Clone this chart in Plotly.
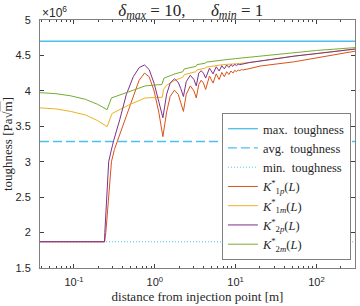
import plotly.graph_objects as go

# ---------------- data ----------------
x_range = [0.038, 300]
max_toughness = 4.70e6
avg_toughness = 3.285e6
min_toughness = 1.87e6

# K*_1p(L)  (orange)
k1p_x = [0.038, 0.239, 0.248, 0.267, 0.291, 0.316, 0.342, 0.432, 0.53, 0.64, 0.747, 0.85, 0.98, 1.12, 1.26,
         1.4, 1.55, 1.75, 1.95, 2.1, 2.26,
         2.45, 2.75, 3.05, 3.26,
         3.5, 3.75, 4.0, 4.26,
         4.75, 5.26, 5.75, 6.26, 6.75, 7.26, 7.75, 8.26, 8.75, 9.26, 9.75, 10.26, 10.75, 11.26, 11.75, 12.26,
         15, 20, 53, 108, 300]
k1p_y = [1.87, 1.87, 2.0, 2.5, 3.0, 3.17, 3.28, 3.59, 3.9, 4.15, 4.25, 4.20, 4.0, 3.70, 3.354,
         3.70, 3.92, 4.01, 3.95, 3.84, 3.71,
         3.95, 4.07, 4.0, 3.90,
         4.09, 4.15, 4.11, 4.02,
         4.21, 4.11, 4.24, 4.16, 4.26, 4.20, 4.27, 4.23, 4.28, 4.25, 4.29, 4.27, 4.295, 4.285, 4.30, 4.295,
         4.315, 4.35, 4.41, 4.47, 4.56]

# K*_1m(L)  (yellow)
k1m_x = [0.038, 0.06, 0.091, 0.139, 0.196, 0.24, 0.257, 0.296, 0.475, 0.762, 1.222,
         1.24, 1.28, 1.4, 1.78, 2.22, 2.32, 3.22, 3.32, 4.22, 4.32, 5.3, 7, 11.2, 20, 53, 108, 300]
k1m_y = [3.76, 3.745, 3.71, 3.66, 3.58, 3.52, 3.495, 3.68, 3.80, 3.90, 3.92,
         3.91, 4.02, 4.08, 4.15, 4.19, 4.23, 4.27, 4.295, 4.32, 4.335, 4.35, 4.37, 4.385, 4.42, 4.49, 4.53, 4.59]

# K*_2p(L)  (purple)
k2p_x = [0.038, 0.239, 0.241, 0.252, 0.269, 0.288, 0.31, 0.368, 0.445, 0.542, 0.643, 0.747, 0.853, 0.984, 1.117, 1.26,
         1.4, 1.55, 1.75, 1.95, 2.1, 2.26,
         2.45, 2.75, 3.05, 3.26,
         3.5, 3.75, 4.0, 4.26,
         4.75, 5.26, 5.75, 6.26, 6.75, 7.26, 7.75, 8.26, 8.75, 9.26, 9.75, 10.26, 10.75, 11.26,
         15, 19.8, 53, 108, 300]
k2p_y = [1.87, 1.87, 2.0, 2.5, 3.0, 3.15, 3.30, 3.59, 3.95, 4.2, 4.33, 4.365, 4.30, 4.10, 3.85, 3.62,
         3.95, 4.11, 4.17, 4.12, 4.03, 3.92,
         4.13, 4.22, 4.16, 4.07,
         4.25, 4.285, 4.25, 4.18,
         4.32, 4.24, 4.34, 4.28, 4.355, 4.31, 4.365, 4.33, 4.37, 4.345, 4.375, 4.355, 4.378, 4.37,
         4.40, 4.42, 4.49, 4.53, 4.59]

# K*_2m(L)  (green)
k2m_x = [0.038, 0.06, 0.091, 0.139, 0.196, 0.24, 0.257, 0.291, 0.475, 0.762, 1.222,
         1.3, 1.78, 2.22, 2.32, 3.22, 3.32, 4.22, 4.32, 5.3, 7, 10, 20, 53, 100, 300]
k2m_y = [3.975, 3.96, 3.93, 3.88, 3.81, 3.755, 3.735, 3.90, 3.99, 4.07, 4.09,
         4.18, 4.24, 4.27, 4.31, 4.345, 4.37, 4.39, 4.405, 4.42, 4.435, 4.455, 4.49, 4.54, 4.57, 4.61]

y_tick_vals = [1.5, 2, 2.5, 3, 3.5, 4, 4.5, 5]
y_tick_text = ["1.5", "2", "2.5", "3", "3.5", "4", "4.5", "5"]
x_tick_vals = [0.1, 1, 10, 100]
x_tick_text = ["10<sup>-1</sup>", "10<sup>0</sup>", "10<sup>1</sup>", "10<sup>2</sup>"]
x_minor_vals = [0.04, 0.05, 0.06, 0.07, 0.08, 0.09, 0.2, 0.3, 0.4, 0.5, 0.6, 0.7, 0.8, 0.9,
                2, 3, 4, 5, 6, 7, 8, 9, 20, 30, 40, 50, 60, 70, 80, 90, 200, 300]
scale = 1e6

# ---------------- figure ----------------
serif = "Liberation Serif"
sans = "Liberation Sans"
tc = "#4DBEEE"

fig = go.Figure()
fig.add_trace(go.Scatter(x=x_range, y=[max_toughness] * 2, mode="lines",
                         line=dict(color=tc, width=1.3), name="max.\u00a0 toughness"))
fig.add_trace(go.Scatter(x=x_range, y=[avg_toughness] * 2, mode="lines",
                         line=dict(color=tc, width=1.3, dash="9px,4px"), name="avg.\u00a0 toughness"))
fig.add_trace(go.Scatter(x=x_range, y=[min_toughness] * 2, mode="lines",
                         line=dict(color=tc, width=1, dash="1px,2px"), name="min.\u00a0 toughness"))

series = [
    (k1p_x, k1p_y, "#D95319", "<i>K</i><sup>*</sup><sub>1<i>p</i></sub>(<i>L</i>)"),
    (k1m_x, k1m_y, "#EDB120", "<i>K</i><sup>*</sup><sub>1<i>m</i></sub>(<i>L</i>)"),
    (k2p_x, k2p_y, "#7E2F8E", "<i>K</i><sup>*</sup><sub>2<i>p</i></sub>(<i>L</i>)"),
    (k2m_x, k2m_y, "#77AC30", "<i>K</i><sup>*</sup><sub>2<i>m</i></sub>(<i>L</i>)"),
]
for xs, ys, col, nm in series:
    fig.add_trace(go.Scatter(x=xs, y=[v * scale for v in ys], mode="lines",
                             line=dict(color=col, width=1), name=nm))

axis_common = dict(showgrid=False, zeroline=False, showline=True, linecolor="#808080", linewidth=1,
                   mirror="ticks", ticks="inside", tickcolor="#404040", ticklen=4,
                   tickfont=dict(family=sans, size=11, color="#262626"))

fig.update_xaxes(type="log", range=[-1.4202, 2.4771],
                 tickmode="array", tickvals=x_tick_vals, ticktext=x_tick_text,
                 minor=dict(tickmode="array", tickvals=x_minor_vals, ticks="inside", ticklen=2,
                            tickcolor="#404040", showgrid=False),
                 ticklabelstandoff=4,
                 **axis_common)
fig.update_yaxes(range=[1.5e6, 5e6], tickmode="array",
                 tickvals=[v * scale for v in y_tick_vals], ticktext=y_tick_text,
                 ticklabelstandoff=6,
                 **axis_common)
fig.update_xaxes(title_text="distance from injection point [m]",
                 title_font=dict(family=serif, size=13, color="#262626"), title_standoff=4)
fig.update_yaxes(title_text="toughness [Pa\u221a<span style='text-decoration:overline'>m</span>]",
                 title_font=dict(family=serif, size=13, color="#262626"), title_standoff=2)

fig.update_layout(
    width=360, height=306,
    margin=dict(l=39, r=4, t=20, b=38),
    paper_bgcolor="white", plot_bgcolor="white",
    showlegend=True,
    legend=dict(x=0.987, y=0.032, xanchor="right", yanchor="bottom",
                bgcolor="white", bordercolor="#808080", borderwidth=1,
                font=dict(family=serif, size=12.5, color="#262626"),
                itemwidth=30, tracegroupgap=0),
    title=dict(text="<i>\u03b4<sub>max</sub></i> = 10,\u00a0\u00a0\u00a0\u00a0\u00a0\u00a0<i>\u03b4<sub>min</sub></i> = 1",
               x=0.53, xanchor="center", y=0.968, yanchor="middle",
               font=dict(family=serif, size=17, color="#262626")),
    annotations=[dict(text="\u00d710<sup>6</sup>", xref="paper", yref="paper", x=0, y=1,
                      xanchor="left", yanchor="bottom", showarrow=False, yshift=-2,
                      font=dict(family=sans, size=12, color="#262626"))],
)

fig.write_html("out.html", config={"displayModeBar": False},
               post_script="document.body.style.margin='0';document.body.style.padding='0';")
